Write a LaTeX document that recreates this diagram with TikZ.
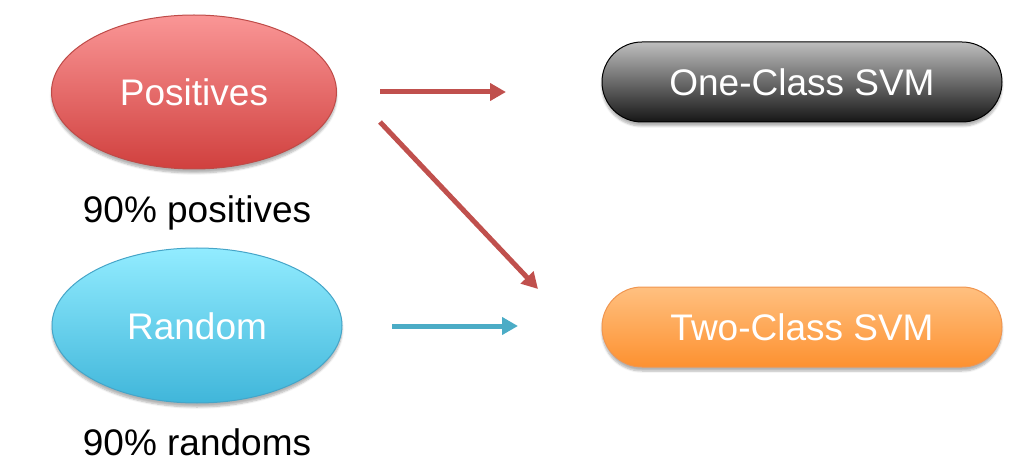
\documentclass[tikz,border=0pt]{standalone}
\usepackage{fontspec}
\setmainfont{Liberation Sans}
\usetikzlibrary{shapes.geometric,shapes.misc,arrows.meta,shadows.blur}

\definecolor{redtop}{RGB}{250,150,150}
\definecolor{redbot}{RGB}{208,64,62}
\definecolor{redline}{RGB}{190,75,72}
\definecolor{bluetop}{RGB}{146,236,255}
\definecolor{bluebot}{RGB}{64,182,218}
\definecolor{blueline}{RGB}{70,165,200}
\definecolor{greytop}{RGB}{190,190,190}
\definecolor{greybot}{RGB}{22,22,22}
\definecolor{orangetop}{RGB}{255,192,128}
\definecolor{orangebot}{RGB}{253,145,48}
\definecolor{orangeline}{RGB}{240,150,80}
\definecolor{redarrow}{RGB}{192,80,77}
\definecolor{bluearrow}{RGB}{75,172,198}

\tikzset{
  big/.style={font=\fontsize{37}{44}\selectfont},
  source/.style={ellipse, big, text=white, inner sep=0pt, line width=1pt,
    text height=27pt, text depth=0pt,
    blur shadow={shadow xshift=0pt, shadow yshift=-4pt, shadow blur steps=6, shadow opacity=30}},
  model/.style={rounded rectangle, big, text=white, inner sep=0pt, line width=1pt,
    minimum width=400pt, minimum height=80pt, text height=27pt, text depth=0pt,
    blur shadow={shadow xshift=0pt, shadow yshift=-4pt, shadow blur steps=6, shadow opacity=30}},
  caption/.style={big, text=black, anchor=base, inner sep=0pt},
  flow/.style={line width=5pt, -{Triangle[length=16pt,width=17pt]}}
}

\begin{document}
\begin{tikzpicture}[x=1pt,y=-1pt]
  \useasboundingbox (0,0) rectangle (1031,465);

  % data sources
  \node[source, draw=redline, top color=redtop, bottom color=redbot,
        minimum width=285pt, minimum height=154pt] (pos) at (194,92) {Positives};
  \node[source, draw=blueline, top color=bluetop, bottom color=bluebot,
        minimum width=290pt, minimum height=155pt] (rnd) at (197,325.5) {Random};

  % captions
  \node[caption] (poscap) at (197,223) {90\% positives};
  \node[caption] (rndcap) at (197,455) {90\% randoms};

  % classifiers
  \node[model, draw=black, top color=greytop, bottom color=greybot] (one) at (802,82) {One-Class SVM};
  \node[model, draw=orangeline, top color=orangetop, bottom color=orangebot] (two) at (802,327) {Two-Class SVM};

  % arrow end points
  \coordinate (a1s) at (380,92);
  \coordinate (a1e) at (506,92);
  \coordinate (a2s) at (380,122);
  \coordinate (a2e) at (538,289);
  \coordinate (a3s) at (392,326);
  \coordinate (a3e) at (518,326);

  \draw[flow, redarrow] (a1s) -- (a1e);
  \draw[flow, redarrow] (a2s) -- (a2e);
  \draw[flow, bluearrow] (a3s) -- (a3e);
\end{tikzpicture}
\end{document}
